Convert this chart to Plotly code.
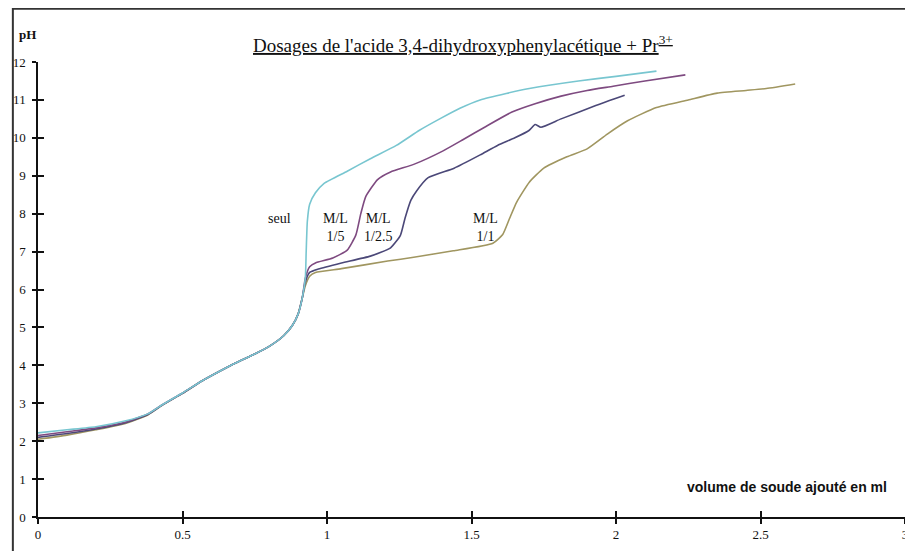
import plotly.graph_objects as go

# ---- data ----
seul_x = [0, 0.1, 0.2, 0.3, 0.38, 0.43, 0.5, 0.57, 0.63, 0.68, 0.75, 0.8, 0.85, 0.88, 0.9, 0.915,
          0.925, 0.928, 0.932, 0.94, 0.96, 0.99, 1.07, 1.15, 1.24, 1.32, 1.39, 1.46, 1.53, 1.62,
          1.70, 1.87, 2.0, 2.14]
seul_y = [2.22, 2.3, 2.38, 2.53, 2.72, 2.96, 3.27, 3.6, 3.85, 4.05, 4.3, 4.5, 4.78, 5.05, 5.35, 5.8,
          6.3, 7.0, 7.8, 8.25, 8.55, 8.8, 9.12, 9.45, 9.8, 10.2, 10.5, 10.78, 11.0, 11.17,
          11.3, 11.5, 11.62, 11.76]

ml15_x = [0, 0.1, 0.2, 0.3, 0.38, 0.43, 0.5, 0.57, 0.63, 0.68, 0.75, 0.8, 0.85, 0.88, 0.9, 0.915,
          0.925, 0.94, 0.96, 1.02, 1.07, 1.10, 1.117, 1.134, 1.175, 1.22, 1.3, 1.4, 1.47, 1.55,
          1.64, 1.72, 1.81, 1.9, 1.99, 2.1, 2.24]
ml15_y = [2.15, 2.25, 2.35, 2.5, 2.72, 2.96, 3.27, 3.6, 3.85, 4.05, 4.3, 4.5, 4.78, 5.05, 5.35, 5.8,
          6.3, 6.6, 6.7, 6.83, 7.04, 7.44, 8.0, 8.45, 8.9, 9.1, 9.3, 9.65, 9.95, 10.3,
          10.68, 10.9, 11.1, 11.25, 11.36, 11.5, 11.66]

ml125_x = [0, 0.1, 0.2, 0.3, 0.38, 0.43, 0.5, 0.57, 0.63, 0.68, 0.75, 0.8, 0.85, 0.88, 0.9, 0.915,
           0.925, 0.94, 0.97, 1.05, 1.15, 1.22, 1.254, 1.27, 1.29, 1.31, 1.35, 1.44, 1.53, 1.59,
           1.65, 1.70, 1.72, 1.74, 1.81, 1.93, 2.03]
ml125_y = [2.1, 2.2, 2.32, 2.48, 2.7, 2.95, 3.26, 3.6, 3.85, 4.05, 4.3, 4.5, 4.78, 5.05, 5.35, 5.8,
           6.2, 6.45, 6.54, 6.7, 6.88, 7.1, 7.43, 7.88, 8.35, 8.6, 8.95, 9.2, 9.55, 9.8,
           10.0, 10.2, 10.35, 10.28, 10.5, 10.85, 11.12]

ml11_x = [0, 0.1, 0.2, 0.3, 0.38, 0.43, 0.5, 0.57, 0.63, 0.68, 0.75, 0.8, 0.85, 0.88, 0.9, 0.915,
          0.925, 0.94, 0.96, 1.05, 1.21, 1.30, 1.437, 1.574, 1.608, 1.632, 1.656, 1.70, 1.75, 1.83,
          1.90, 1.97, 2.04, 2.14, 2.25, 2.35, 2.45, 2.52, 2.62]
ml11_y = [2.05, 2.16, 2.3, 2.46, 2.69, 2.95, 3.26, 3.6, 3.85, 4.05, 4.3, 4.5, 4.78, 5.05, 5.35, 5.8,
          6.1, 6.35, 6.45, 6.55, 6.75, 6.85, 7.02, 7.22, 7.45, 7.88, 8.3, 8.83, 9.2, 9.5,
          9.71, 10.1, 10.45, 10.8, 11.0, 11.18, 11.25, 11.3, 11.42]

x_ticks = [0, 0.5, 1, 1.5, 2, 2.5, 3]
x_tick_text = ["0", "0.5", "1", "1.5", "2", "2.5", "3"]
y_ticks = list(range(0, 13))

series = [
    ("M/L 1/1", ml11_x, ml11_y, "#a09660"),
    ("M/L 1/2.5", ml125_x, ml125_y, "#4b4878"),
    ("M/L 1/5", ml15_x, ml15_y, "#7e4a80"),
    ("seul", seul_x, seul_y, "#78c6d0"),
]

labels = [
    ("seul", 0.835, 7.87),
    ("M/L<br>1/5", 1.03, 7.63),
    ("M/L<br>1/2.5", 1.175, 7.63),
    ("M/L<br>1/1", 1.55, 7.63),
]

SERIF = "Liberation Serif, Times New Roman, serif"
SANS = "Liberation Sans, Arial, sans-serif"

fig = go.Figure()
for name, xs, ys, col in series:
    fig.add_trace(go.Scatter(x=xs, y=ys, mode="lines", name=name,
                             line=dict(color=col, width=1.6, shape="spline", smoothing=0.5),
                             showlegend=False))

# invisible trace for the overlaid axes that draw the inner half of the cross ticks
fig.add_trace(go.Scatter(x=[0], y=[0], xaxis="x2", yaxis="y2", mode="markers",
                         marker=dict(opacity=0, size=1),
                         showlegend=False, hoverinfo="skip"))

for text, xv, yv in labels:
    fig.add_annotation(x=xv, y=yv, text=text, showarrow=False,
                       font=dict(family=SERIF, size=14, color="#111"), align="center")

fig.add_annotation(x=2.59, y=0.8, text="<b>volume de soude ajouté en ml</b>", showarrow=False,
                   font=dict(family=SANS, size=14, color="#111"), xanchor="center", yanchor="middle")
fig.add_annotation(text="<b>pH</b>", xref="paper", yref="paper", x=-0.0126, y=1.0615,
                   xanchor="center", yanchor="middle",
                   showarrow=False, font=dict(family=SERIF, size=13, color="#111"))
fig.add_annotation(text="<u>Dosages de l'acide 3,4-dihydroxyphenylacétique + Pr<sup>3+</sup></u>",
                   xref="paper", yref="paper", x=0.49, y=1.04, xanchor="center", yanchor="middle",
                   showarrow=False, font=dict(family=SERIF, size=19, color="#111"))

# outer frame
fig.add_shape(type="rect", xref="paper", yref="paper", x0=-0.029, y0=-0.3, x1=1.2, y1=1.117,
              line=dict(color="#333", width=2), layer="below")

axis_common = dict(showgrid=False, zeroline=False, showline=True, linecolor="#111", linewidth=1.5,
                   tickcolor="#111", tickwidth=1.5)
fig.update_layout(
    width=905, height=543,
    margin=dict(l=27, r=5, t=54, b=34),
    paper_bgcolor="white", plot_bgcolor="white",
    xaxis=dict(range=[0, 3], tickvals=x_ticks, ticktext=x_tick_text, ticks="outside", ticklen=5,
               tickfont=dict(family=SERIF, size=13, color="#111"), **axis_common),
    yaxis=dict(range=[0, 12], tickvals=y_ticks, ticks="outside", ticklen=4, ticklabelstandoff=4,
               tickfont=dict(family=SERIF, size=13, color="#111"), **axis_common),
    xaxis2=dict(range=[0, 3], tickvals=x_ticks, ticks="inside", ticklen=6, showticklabels=False,
                overlaying="x", anchor="y2", side="bottom", **axis_common),
    yaxis2=dict(range=[0, 12], tickvals=y_ticks, ticks="inside", ticklen=6, showticklabels=False,
                overlaying="y", anchor="x2", side="left", **axis_common),
)

fig.write_html("out.html")
